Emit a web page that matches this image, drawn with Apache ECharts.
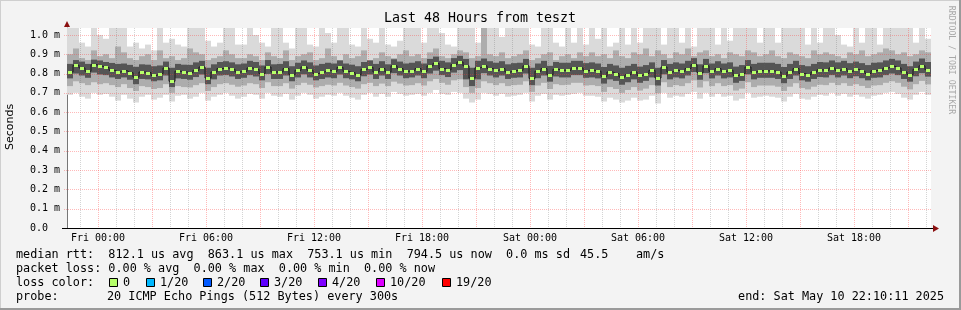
<!DOCTYPE html>
<html><head><meta charset="utf-8">
<script src="https://cdn.jsdelivr.net/npm/echarts@6/dist/echarts.min.js"></script>
<style>html,body{margin:0;padding:0;background:#f3f3f3}#c{width:961px;height:310px}</style>
</head><body><div id="c"></div>
<script>
// ---- time axis (hours relative to Fri 00:00) ----
const START_HOUR = -1.722;
const END_HOUR = 46.278;
const STEP_HOUR = 1 / 3; // one smoke column = 20 minutes
const xTickHours = [0, 6, 12, 18, 24, 30, 36, 42];
const xTickLabels = ['Fri 00:00', 'Fri 06:00', 'Fri 12:00', 'Fri 18:00', 'Sat 00:00', 'Sat 06:00', 'Sat 12:00', 'Sat 18:00'];
const yTicks = [0, 100, 200, 300, 400, 500, 600, 700, 800, 900, 1000]; // microseconds
const Y_MAX = 1036;

// ---- values in microseconds ----
const median = [
808,843,829,812,846,838,832,817,808,815,805,782,808,805,791,800,829,760,812,808,805,817,834,777,808,826,829,822,808,
812,829,822,800,834,808,808,826,794,817,834,817,800,808,817,812,832,812,805,794,822,832,808,826,808,840,826,812,815,
826,812,840,853,826,819,846,860,840,777,830,840,826,817,826,808,815,817,840,775,812,826,794,822,817,817,829,829,815,
817,812,786,808,800,782,794,808,791,800,817,777,834,808,817,812,826,846,805,840,812,826,812,817,791,800,834,808,815,
814,814,808,787,808,826,800,794,808,819,817,829,817,826,812,822,812,800,815,817,829,838,829,808,794,822,840,820];
const darkHigh = [
850,870,862,850,872,868,860,855,850,852,845,835,848,846,838,842,862,830,850,846,845,858,866,830,848,860,864,858,848,
852,866,860,842,870,848,850,864,838,856,868,858,842,850,856,852,868,852,846,838,860,868,850,864,848,874,862,852,856,
864,852,876,888,866,858,880,892,876,830,866,878,864,856,864,848,854,856,876,830,852,866,840,860,856,856,866,866,854,
858,852,834,850,842,830,840,850,836,844,858,830,870,850,858,852,866,880,848,876,852,864,852,858,836,844,870,850,856,
856,856,850,834,850,866,844,838,850,860,858,868,858,866,854,862,854,844,856,858,868,876,868,850,838,862,878,860];
const darkLow = [
775,800,790,778,805,795,792,780,772,780,768,745,772,770,760,765,790,730,775,772,768,782,795,745,770,790,792,785,772,
778,792,785,765,798,772,772,790,760,780,796,780,765,772,780,776,795,776,770,760,786,795,772,790,772,802,790,776,780,
790,776,800,815,792,782,805,818,770,735,770,802,790,780,790,772,778,780,800,740,776,790,758,785,780,780,792,792,778,
780,775,748,770,762,742,755,770,752,762,780,738,796,770,780,775,790,808,768,802,775,790,775,780,752,762,796,770,778,
778,778,772,750,772,790,765,758,772,782,780,792,780,790,776,786,776,765,778,780,792,800,792,772,758,786,802,784];
const midHigh = [
900,930,880,870,920,890,900,880,940,910,880,870,890,900,870,920,880,890,870,880,930,910,900,870,880,890,920,900,880,
880,900,890,870,910,890,880,920,870,890,900,910,870,880,930,890,870,900,880,890,920,870,880,910,890,880,900,920,890,
900,880,910,930,890,880,900,920,910,880,890,1036,900,890,910,880,890,900,920,870,880,900,910,870,890,900,880,910,890,
910,890,900,880,920,890,880,910,900,930,890,920,900,880,910,900,930,890,910,920,890,900,880,910,900,890,920,910,890,
900,920,890,880,910,900,890,880,920,900,910,900,890,880,910,900,920,890,900,910,930,920,900,910,890,900,920,910];
const midLow = [
735,760,750,740,755,745,750,740,730,745,725,710,735,730,720,725,745,700,735,730,728,740,750,710,730,745,750,742,732,
738,750,745,725,755,735,735,750,722,740,752,742,728,735,742,738,752,738,730,722,745,752,735,748,735,758,748,738,740,
750,738,760,772,752,742,765,770,730,700,725,760,750,740,750,735,740,742,760,705,738,752,720,745,740,742,752,752,738,
740,735,705,730,720,700,715,730,712,722,740,698,755,730,740,735,750,765,728,760,735,750,735,740,712,722,755,730,738,
738,738,732,710,732,750,725,718,732,742,740,752,740,750,736,745,736,725,738,740,752,760,752,732,718,745,762,744];
const maxRtt = [
1036,1036,960,940,1036,1000,980,1036,1036,1036,940,960,930,950,920,1036,960,980,950,940,1036,1036,1036,970,940,960,1036,1036,950,
950,1036,1000,960,940,1036,1036,960,930,1036,1036,950,940,1036,1010,960,1036,1036,950,940,1036,980,960,1036,950,940,970,1036,1036,
1036,960,1036,1036,1010,950,940,1036,1036,1036,960,1036,1036,1036,990,1036,1036,1036,1036,950,940,1036,1036,960,940,1036,960,1036,950,
1036,980,1036,940,960,1036,950,1036,960,1036,1036,1036,950,1036,1036,960,1036,940,1036,1036,1036,950,1036,970,1036,1036,1036,1036,960,
1036,1036,960,1036,1036,1036,1036,950,1036,960,1036,1036,1000,950,940,1036,960,1036,1036,950,1036,1036,1036,1036,1036,960,1036,980];
const minRtt = [
690,700,680,670,700,690,695,680,660,690,670,650,680,690,665,675,690,655,685,690,670,680,700,660,680,690,700,685,670,
680,695,690,670,700,685,680,695,665,685,700,690,670,680,690,685,700,685,675,665,690,700,680,695,680,705,695,685,690,
695,685,700,715,695,690,705,700,670,650,665,700,695,685,695,680,685,690,700,655,685,695,665,690,685,690,695,700,685,
685,680,655,675,665,650,660,675,660,665,685,645,700,675,685,680,695,705,670,700,680,695,680,685,660,670,700,675,680,
685,680,675,655,680,695,670,665,680,690,685,700,685,695,680,690,680,670,685,690,700,705,695,675,665,690,705,690];

const lossLabels = ['0', '1/20', '2/20', '3/20', '4/20', '10/20', '19/20'];
const lossColors = ['#b6ff6a', '#00b8ff', '#0059ff', '#5e00ff', '#7e00ff', '#dd00ff', '#ff0000'];

const MONO = '"DejaVu Sans Mono", monospace';
const GREEN = lossColors[0];
const GRID_RED = 'rgba(255,60,60,0.36)';
const GRID_GRAY = 'rgba(100,100,100,0.28)';

const smokeData = median.map((m, i) => [START_HOUR + i * STEP_HOUR, minRtt[i], midLow[i], darkLow[i], darkHigh[i], midHigh[i], maxRtt[i]]);
const medData = median.map((m, i) => [START_HOUR + i * STEP_HOUR, m]);
const medLine = median.map((m, i) => [START_HOUR + (i + 0.5) * STEP_HOUR, m]);

const gridHours = [];
for (let h = Math.ceil(START_HOUR); h <= Math.floor(END_HOUR); h++) gridHours.push([h]);
const gridValues = yTicks.filter(v => v > 0).map(v => [v]);

function renderSmoke(params, api) {
  const t = api.value(0);
  const x0 = Math.round(api.coord([t, 0])[0]);
  const x1 = Math.round(api.coord([t + STEP_HOUR, 0])[0]);
  const layers = [[1, 6, '#dadada'], [2, 5, '#adadad'], [3, 4, '#555555']];
  return {
    type: 'group',
    children: layers.map(([a, b, c]) => {
      const ya = api.coord([t, api.value(a)])[1];
      const yb = api.coord([t, api.value(b)])[1];
      return { type: 'rect', shape: { x: x0, y: yb, width: x1 - x0, height: ya - yb }, style: { fill: c } };
    })
  };
}
function renderMedian(params, api) {
  const t = api.value(0);
  const x0 = Math.round(api.coord([t, 0])[0]);
  const x1 = Math.round(api.coord([t + STEP_HOUR, 0])[0]);
  const y = Math.round(api.coord([t, api.value(1)])[1]);
  return { type: 'rect', shape: { x: x0 + 1, y: y - 1, width: x1 - x0 - 2, height: 3 }, style: { fill: GREEN } };
}
function renderVGrid(params, api) {
  const h = api.value(0);
  const x = Math.round(api.coord([h, 0])[0]) + 0.5;
  const yb = api.coord([h, 0])[1];
  const yt = api.coord([h, Y_MAX])[1];
  return { type: 'line', shape: { x1: x, y1: yt, x2: x, y2: yb }, style: { stroke: (h % 3 === 0) ? GRID_RED : GRID_GRAY, lineWidth: 1, lineDash: [1, 1] } };
}
function renderHGrid(params, api) {
  const v = api.value(0);
  const y = Math.round(api.coord([START_HOUR, v])[1]) + 0.5;
  const xl = api.coord([START_HOUR, v])[0] - 3;
  const xr = api.coord([END_HOUR, v])[0] + 1;
  return { type: 'line', shape: { x1: xl, y1: y, x2: xr, y2: y }, style: { stroke: GRID_RED, lineWidth: 1, lineDash: [1, 1] } };
}

const graphics = [
  { type: 'rect', shape: { x: 0, y: 0, width: 961, height: 1 }, style: { fill: '#cfcfcf' }, silent: true },
  { type: 'rect', shape: { x: 0, y: 0, width: 1, height: 310 }, style: { fill: '#cfcfcf' }, silent: true },
  { type: 'rect', shape: { x: 0, y: 308, width: 961, height: 2 }, style: { fill: '#9a9a9a' }, silent: true },
  { type: 'rect', shape: { x: 959, y: 0, width: 2, height: 310 }, style: { fill: '#9a9a9a' }, silent: true },
  { type: 'text', x: 480, y: 19, style: { text: 'Last 48 Hours from teszt', font: '13.3px ' + MONO, fill: '#000', align: 'center', verticalAlign: 'middle' } },
  { type: 'text', x: 10, y: 127, rotation: Math.PI / 2, style: { text: 'Seconds', font: '11px "DejaVu Sans", sans-serif', fill: '#000', align: 'center', verticalAlign: 'middle' } },
  { type: 'text', x: 951, y: 60, rotation: -Math.PI / 2, style: { text: 'RRDTOOL / TOBI OETIKER', font: '8.2px ' + MONO, fill: '#a8a8a8', align: 'center', verticalAlign: 'middle' } },
  { type: 'line', shape: { x1: 62, y1: 228.5, x2: 934, y2: 228.5 }, style: { stroke: '#000', lineWidth: 1 }, z: 10 },
  { type: 'polygon', shape: { points: [[64, 27], [70, 27], [67, 21]] }, style: { fill: '#8b1010' }, z: 10 },
  { type: 'polygon', shape: { points: [[933, 225], [933, 232], [939, 228.5]] }, style: { fill: '#8b1010' }, z: 10 },
  { type: 'text', x: 16, y: 255, style: { text: 'median rtt:  812.1 us avg  863.1 us max  753.1 us min  794.5 us now  0.0 ms sd', font: '11.8px ' + MONO, fill: '#000', verticalAlign: 'middle' } },
  { type: 'text', x: 580, y: 255, style: { text: '45.5', font: '11.8px ' + MONO, fill: '#000', verticalAlign: 'middle' } },
  { type: 'text', x: 636, y: 255, style: { text: 'am/s', font: '11.8px ' + MONO, fill: '#000', verticalAlign: 'middle' } },
  { type: 'text', x: 16, y: 269, style: { text: 'packet loss: 0.00 % avg  0.00 % max  0.00 % min  0.00 % now', font: '11.8px ' + MONO, fill: '#000', verticalAlign: 'middle' } },
  { type: 'text', x: 16, y: 283, style: { text: 'loss color:', font: '11.8px ' + MONO, fill: '#000', verticalAlign: 'middle' } },
  { type: 'text', x: 16, y: 297, style: { text: 'probe:', font: '11.8px ' + MONO, fill: '#000', verticalAlign: 'middle' } },
  { type: 'text', x: 107, y: 297, style: { text: '20 ICMP Echo Pings (512 Bytes) every 300s', font: '11.8px ' + MONO, fill: '#000', verticalAlign: 'middle' } },
  { type: 'text', x: 944, y: 297, style: { text: 'end: Sat May 10 22:10:11 2025', font: '11.8px ' + MONO, fill: '#000', align: 'right', verticalAlign: 'middle' } }
];
const boxX = [109, 146, 203, 260, 318, 376, 442];
lossLabels.forEach((lab, i) => {
  graphics.push({ type: 'rect', shape: { x: boxX[i] + 0.5, y: 278.5, width: 8, height: 8 }, style: { fill: lossColors[i], stroke: '#000', lineWidth: 1 } });
  graphics.push({ type: 'text', x: boxX[i] + 14, y: 283, style: { text: lab, font: '11.8px ' + MONO, fill: '#000', verticalAlign: 'middle' } });
});

const chart = echarts.init(document.getElementById('c'), null, { renderer: 'canvas' });
chart.setOption({
  animation: false,
  backgroundColor: '#f3f3f3',
  grid: { left: 67, right: 30, top: 28, bottom: 82, show: true, backgroundColor: '#ffffff', borderWidth: 0 },
  xAxis: {
    type: 'value', min: START_HOUR, max: END_HOUR,
    axisLine: { show: false },
    axisTick: { show: false },
    splitLine: { show: false },
    axisLabel: {
      customValues: xTickHours,
      formatter: v => { const k = xTickHours.indexOf(v); return k >= 0 ? xTickLabels[k] : ''; },
      margin: 5, color: '#000', fontFamily: MONO, fontSize: 10
    }
  },
  yAxis: {
    type: 'value', min: 0, max: Y_MAX, interval: 100,
    axisLine: { show: true, onZero: false, lineStyle: { color: '#777777', width: 1 } },
    axisTick: { show: false },
    splitLine: { show: false },
    axisLabel: {
      formatter: v => (yTicks.indexOf(v) < 0 ? '' : (v === 0 ? '0.0' : (v / 1000).toFixed(1) + ' m')),
      margin: 37, align: 'left', color: '#000', fontFamily: MONO, fontSize: 10
    }
  },
  series: [
    { type: 'custom', name: 'smoke', data: smokeData, renderItem: renderSmoke, clip: true, z: 1, silent: true },
    { type: 'custom', name: 'vgrid', data: gridHours, renderItem: renderVGrid, clip: false, z: 3, silent: true },
    { type: 'custom', name: 'hgrid', data: gridValues, renderItem: renderHGrid, clip: false, z: 3, silent: true },
    { type: 'line', name: 'medianLine', data: medLine, step: 'middle', showSymbol: false, lineStyle: { color: '#1a1a1a', width: 1 }, z: 4, silent: true },
    { type: 'custom', name: 'median', data: medData, renderItem: renderMedian, clip: true, z: 5, silent: true }
  ],
  graphic: graphics
});
</script>
</body></html>
